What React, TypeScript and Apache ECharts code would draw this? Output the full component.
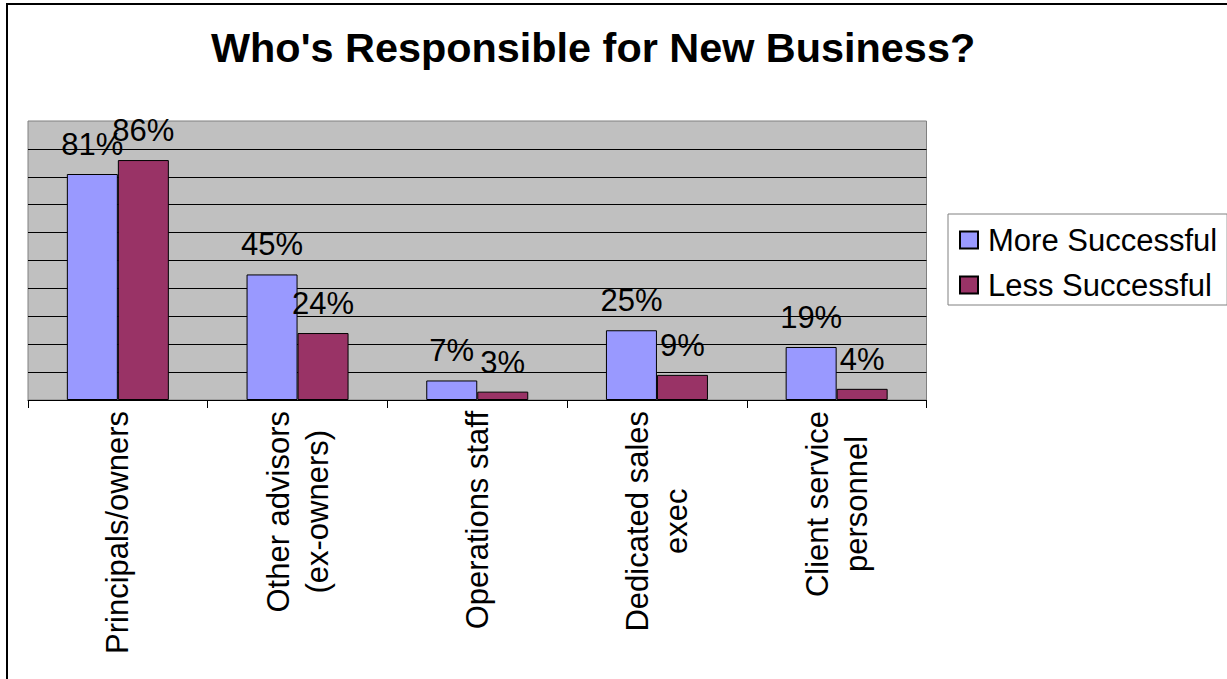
import React, { useEffect, useRef } from 'react';
import * as echarts from 'echarts';

const titleText = "Who's Responsible for New Business?";
const categories = [
  'Principals/owners',
  'Other advisors\n(ex-owners)',
  'Operations staff',
  'Dedicated sales\nexec',
  'Client service\npersonnel',
];
const seriesNames = ['More Successful', 'Less Successful'];
const moreSuccessful = [81, 45, 7, 25, 19];
const lessSuccessful = [86, 24, 3, 9, 4];
const yTicks = { min: 0, max: 100, interval: 10 };

const FONT = '"Liberation Sans", Arial, Helvetica, sans-serif';

export default function App() {
  const ref = useRef<HTMLDivElement>(null);

  useEffect(() => {
    if (!ref.current) return;
    const chart = echarts.init(ref.current, null, { renderer: 'svg' });
    const labelStyle = {
      show: true,
      position: 'top',
      distance: 14,
      color: '#000',
      fontSize: 31,
      fontFamily: FONT,
      formatter: (p: any) => `${p.value}%`,
    };
    chart.setOption({
      animation: false,
      backgroundColor: '#fff',
      title: {
        text: titleText,
        left: 211,
        top: 27,
        padding: 0,
        textStyle: { fontSize: 41.4, fontWeight: 'bold', color: '#000', fontFamily: FONT },
      },
      legend: {
        orient: 'vertical',
        left: 948,
        top: 214,
        padding: [8, 10, 2, 11],
        itemGap: 9,
        itemWidth: 18,
        itemHeight: 17,
        icon: 'rect',
        backgroundColor: '#fff',
        borderColor: '#808080',
        borderWidth: 1,
        borderRadius: 0,
        textStyle: {
          fontSize: 31,
          lineHeight: 36,
          color: '#000',
          fontFamily: FONT,
          padding: [0, 0, 0, 5],
        },
        data: seriesNames,
      },
      grid: {
        left: 28,
        top: 121,
        width: 898.5,
        height: 279,
        show: true,
        backgroundColor: '#C0C0C0',
        borderColor: '#808080',
        borderWidth: 1,
        containLabel: false,
      },
      xAxis: {
        type: 'category',
        data: categories,
        axisLine: { show: true, lineStyle: { color: '#000', width: 1 } },
        axisTick: { show: true, length: 8, lineStyle: { color: '#000' } },
        axisLabel: {
          interval: 0,
          rotate: 90,
          margin: 11,
          color: '#000',
          fontSize: 31,
          lineHeight: 39,
          fontFamily: FONT,
          formatter: (v: string) => `{c|${v}}`,
          rich: {
            c: { align: 'center', fontSize: 31, lineHeight: 39, fontFamily: FONT, color: '#000' },
          },
        },
        splitLine: { show: false },
      },
      yAxis: {
        type: 'value',
        min: yTicks.min,
        max: yTicks.max,
        interval: yTicks.interval,
        axisLine: { show: false },
        axisTick: { show: false },
        axisLabel: { show: false },
        splitLine: {
          show: true,
          showMinLine: false,
          showMaxLine: false,
          lineStyle: { color: '#000', width: 1 },
        },
      },
      graphic: [
        {
          type: 'rect',
          silent: true,
          shape: { x: 7, y: 4, width: 1400, height: 900 },
          style: { fill: 'none', stroke: '#000', lineWidth: 2 },
        },
      ],
      series: [
        {
          name: seriesNames[0],
          type: 'bar',
          data: moreSuccessful,
          barWidth: 51,
          barGap: '0%',
          itemStyle: { color: '#9999FF', borderColor: '#000', borderWidth: 1 },
          label: labelStyle,
        },
        {
          name: seriesNames[1],
          type: 'bar',
          data: lessSuccessful,
          barWidth: 51,
          barGap: '0%',
          itemStyle: { color: '#993366', borderColor: '#000', borderWidth: 1 },
          label: labelStyle,
        },
      ],
    });
    return () => chart.dispose();
  }, []);

  return (
    <div
      ref={ref}
      style={{ position: 'fixed', left: 0, top: 0, width: '1227px', height: '679px' }}
    />
  );
}
